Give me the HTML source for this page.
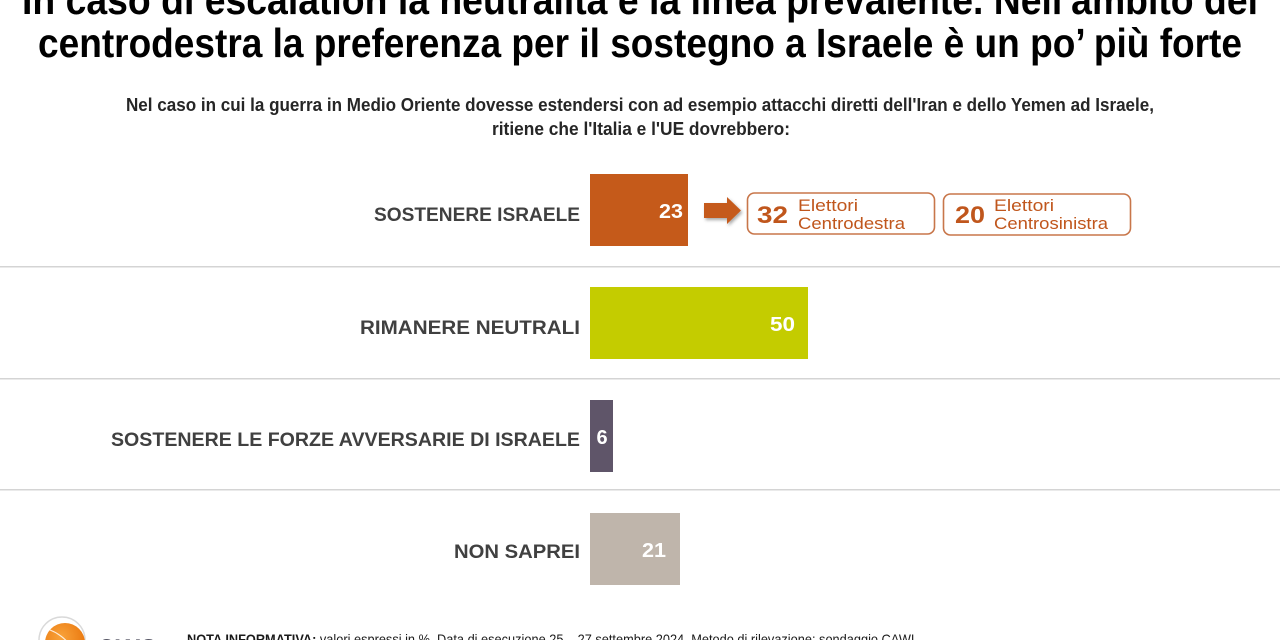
<!DOCTYPE html>
<html>
<head>
<meta charset="utf-8">
<style>
  html, body { margin:0; padding:0; background:#ffffff; }
  body { width:1280px; height:640px; overflow:hidden; }
  svg { display:block; }
  text { font-family: "Liberation Sans", "DejaVu Sans", sans-serif; }
</style>
</head>
<body>
<svg width="1280" height="640" viewBox="0 0 1280 640" xmlns="http://www.w3.org/2000/svg">
  <defs>
    <filter id="sh" x="-30%" y="-30%" width="170%" height="170%">
      <feDropShadow dx="1.5" dy="2" stdDeviation="1.5" flood-color="#000" flood-opacity="0.35"/>
    </filter>
    <radialGradient id="lg" cx="40%" cy="35%" r="70%">
      <stop offset="0" stop-color="#f9a33a"/>
      <stop offset="1" stop-color="#e8730a"/>
    </radialGradient>
  </defs>
  <rect width="1280" height="640" fill="#ffffff"/>

  <!-- Title -->
  <text x="640" y="14" text-anchor="middle" font-size="41" font-weight="bold" fill="#000" textLength="1236" lengthAdjust="spacingAndGlyphs">In caso di escalation la neutralità è la linea prevalente. Nell'ambito del</text>
  <text x="640" y="57" text-anchor="middle" font-size="41" font-weight="bold" fill="#000" textLength="1204" lengthAdjust="spacingAndGlyphs">centrodestra la preferenza per il sostegno a Israele è un po’ più forte</text>

  <!-- Subtitle -->
  <text x="640" y="111" text-anchor="middle" font-size="18" font-weight="bold" fill="#262626" textLength="1028" lengthAdjust="spacingAndGlyphs">Nel caso in cui la guerra in Medio Oriente dovesse estendersi con ad esempio attacchi diretti dell'Iran e dello Yemen ad Israele,</text>
  <text x="641" y="135" text-anchor="middle" font-size="18" font-weight="bold" fill="#262626" textLength="298" lengthAdjust="spacingAndGlyphs">ritiene che l'Italia e l'UE dovrebbero:</text>

  <!-- Separators -->
  <rect x="0" y="266" width="1280" height="1.5" fill="#d4d4d4"/>
  <rect x="0" y="378" width="1280" height="1.5" fill="#d4d4d4"/>
  <rect x="0" y="489" width="1280" height="1.5" fill="#d4d4d4"/>

  <!-- Row 1 -->
  <text x="580" y="221" text-anchor="end" font-size="19" font-weight="bold" fill="#404040" textLength="206" lengthAdjust="spacingAndGlyphs">SOSTENERE ISRAELE</text>
  <rect x="590" y="174" width="98" height="72" fill="#c55a1a"/>
  <text x="683" y="218" text-anchor="end" font-size="20" font-weight="bold" fill="#ffffff" textLength="24" lengthAdjust="spacingAndGlyphs">23</text>

  <!-- Arrow -->
  <path d="M704,203 L727,203 L727,197 L741,210.5 L727,224 L727,218 L704,218 Z" fill="#c55a1a" filter="url(#sh)"/>

  <!-- Box 1 -->
  <rect x="747.5" y="193" width="187" height="41" rx="7" ry="7" fill="#fff" stroke="#c8764a" stroke-width="1.6"/>
  <text x="757" y="223" font-size="24" font-weight="bold" fill="#c0561c" textLength="31" lengthAdjust="spacingAndGlyphs">32</text>
  <text x="798" y="211" font-size="17" fill="#c0561c" textLength="60" lengthAdjust="spacingAndGlyphs">Elettori</text>
  <text x="798" y="229" font-size="17" fill="#c0561c" textLength="107" lengthAdjust="spacingAndGlyphs">Centrodestra</text>

  <!-- Box 2 -->
  <rect x="943.5" y="194" width="187" height="41" rx="7" ry="7" fill="#fff" stroke="#c8764a" stroke-width="1.6"/>
  <text x="955" y="223" font-size="24" font-weight="bold" fill="#c0561c" textLength="30" lengthAdjust="spacingAndGlyphs">20</text>
  <text x="994" y="211" font-size="17" fill="#c0561c" textLength="60" lengthAdjust="spacingAndGlyphs">Elettori</text>
  <text x="994" y="229" font-size="17" fill="#c0561c" textLength="114" lengthAdjust="spacingAndGlyphs">Centrosinistra</text>

  <!-- Row 2 -->
  <text x="580" y="334" text-anchor="end" font-size="19" font-weight="bold" fill="#404040" textLength="220" lengthAdjust="spacingAndGlyphs">RIMANERE NEUTRALI</text>
  <rect x="590" y="287" width="218" height="72" fill="#c4cc00"/>
  <text x="795" y="331" text-anchor="end" font-size="20" font-weight="bold" fill="#ffffff" textLength="25" lengthAdjust="spacingAndGlyphs">50</text>

  <!-- Row 3 -->
  <text x="580" y="446" text-anchor="end" font-size="19" font-weight="bold" fill="#404040" textLength="469" lengthAdjust="spacingAndGlyphs">SOSTENERE LE FORZE AVVERSARIE DI ISRAELE</text>
  <rect x="590" y="400" width="23" height="72" fill="#5f5569"/>
  <text x="602" y="444" text-anchor="middle" font-size="20" font-weight="bold" fill="#ffffff">6</text>

  <!-- Row 4 -->
  <text x="580" y="558" text-anchor="end" font-size="19" font-weight="bold" fill="#404040" textLength="126" lengthAdjust="spacingAndGlyphs">NON SAPREI</text>
  <rect x="590" y="513" width="90" height="72" fill="#bfb5ab"/>
  <text x="666" y="557" text-anchor="end" font-size="20" font-weight="bold" fill="#ffffff" textLength="24" lengthAdjust="spacingAndGlyphs">21</text>

  <!-- Footer logo -->
  <circle cx="62" cy="640" r="23" fill="none" stroke="#d9d9d9" stroke-width="1.5"/>
  <circle cx="65" cy="643" r="20" fill="url(#lg)"/>
  <path d="M50,630 Q66,636 78,656" stroke="#ffffff" stroke-width="1.2" fill="none" opacity="0.8"/>
  <text x="97" y="660" font-size="30" font-weight="bold" fill="#1b1b2f" textLength="60" lengthAdjust="spacingAndGlyphs">CWS</text>

  <!-- Footer note -->
  <text x="187" y="644" font-size="14" fill="#1a1a1a" textLength="731" lengthAdjust="spacingAndGlyphs"><tspan font-weight="bold" text-decoration="underline">NOTA INFORMATIVA:</tspan> valori espressi in %. Data di esecuzione 25 – 27 settembre 2024. Metodo di rilevazione: sondaggio CAWI.</text>
</svg>
</body>
</html>
